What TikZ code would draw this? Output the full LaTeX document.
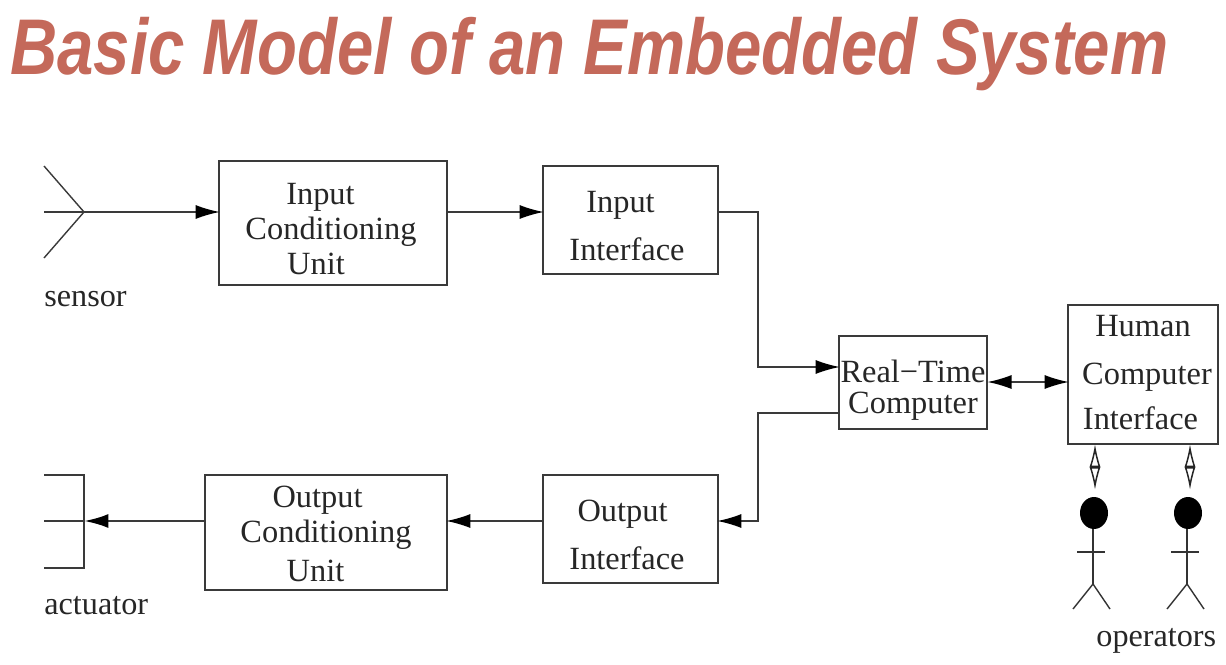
\documentclass[tikz,border=0pt]{standalone}
\usepackage{fontspec}
\setmainfont{Liberation Serif}
\newfontfamily\titlefont{Liberation Sans}
\usetikzlibrary{arrows.meta,shapes.geometric}
\definecolor{titlered}{HTML}{C4695A}
\definecolor{inkline}{HTML}{3A3A3A}
\newcommand{\shiftln}[2]{\makebox[0pt]{\hspace*{#1pt}#2}}
\newcommand{\firstln}[3]{\makebox[0pt]{\hspace*{#1pt}\smash{#3}}\rule{0pt}{#2pt}}
\tikzset{
  x=0.5pt,y=-0.5pt,
  boxnode/.style={draw=inkline,line width=0.9pt,inner sep=0pt,align=center,font=\fontsize{16.2}{17.4}\selectfont,text=black!85},
  plain/.style={inner sep=0pt,font=\fontsize{16.1}{18}\selectfont,text=black!85},
  wire/.style={draw=inkline,line width=0.7pt},
  tip/.style={-{Latex[length=12pt,width=7pt,black]},shorten >=-0.8pt},
  twotip/.style={{Latex[length=12pt,width=7pt,black]}-{Latex[length=12pt,width=7pt,black]},shorten >=-0.8pt,shorten <=-0.2pt},
  hollow/.style={{Latex[open,length=11.5pt,width=5.5pt]}-{Latex[open,length=11.5pt,width=5.5pt]},draw=black!85,line width=0.75pt},
  stick/.style={draw=black!80,line width=0.7pt},
}
\begin{document}
\begin{tikzpicture}
\useasboundingbox (0,0) rectangle (1226,664);
\node[anchor=base west,inner sep=0pt,text=titlered,font=\titlefont\bfseries\itshape\fontsize{39.5}{40}\selectfont] (title) at (10,75) {\resizebox{579pt}{\height}{Basic Model of an Embedded System}};

\node[boxnode,minimum width=114pt,minimum height=62pt] (icu) at (333,223)
  {\firstln{-12.5}{16.8}{Input}\\\shiftln{-2}{Conditioning}\\\shiftln{-17}{Unit}};
\node[boxnode,minimum width=87.5pt,minimum height=54pt] (ii) at (630.5,220)
  {\firstln{-10}{17}{Input}\\[6.5pt]\shiftln{-3.5}{Interface}};
\node[boxnode,minimum width=74pt,minimum height=46.5pt] (rt) at (913,382.5)
  {\firstln{0}{18.8}{Real−Time}\\[-2pt]Computer};
\node[boxnode,minimum width=75pt,minimum height=69.5pt] (hci) at (1143,374.5)
  {\firstln{0}{8.8}{Human}\\[6.5pt]\shiftln{4}{Computer}\\[5.5pt]\shiftln{-2.5}{Interface}};
\node[boxnode,minimum width=87.5pt,minimum height=54pt] (oi) at (630.5,529)
  {\firstln{-8}{16.3}{Output}\\[6.5pt]\shiftln{-3.5}{Interface}};
\node[boxnode,minimum width=121pt,minimum height=57.5pt] (ocu) at (326,532.5)
  {\firstln{-8.5}{12.3}{Output}\\\shiftln{0}{Conditioning}\\[2.5pt]\shiftln{-10.5}{Unit}};

\node[plain,anchor=base west] (sensorlabel) at (44,306) {sensor};
\node[plain,anchor=base west] (actuatorlabel) at (44,614) {actuator};
\node[plain,anchor=base west] (operatorslabel) at (1096,646) {operators};

% named levels
\coordinate (sa) at (44,166);
\coordinate (sb) at (84,212);
\coordinate (sc) at (44,258);
\coordinate (sd) at (44,212);
\coordinate (aa) at (44,475);
\coordinate (ab) at (84,475);
\coordinate (ac) at (84,568);
\coordinate (ad) at (44,568);
\coordinate (ae) at (44,521);
\coordinate (af) at (86,521);
\coordinate (up) at (758,212);
\coordinate (inrt) at (758,367);
\coordinate (outrt) at (758,413);
\coordinate (low) at (758,521);
\coordinate (mid) at (0,382);

\draw[wire] (sa) -- (sb) -- (sc);
\draw[wire] (sd) -- (sb);
\draw[wire,tip] (sb) -- (sb -| icu.west);
\draw[wire,tip] (up -| icu.east) -- (up -| ii.west);
\draw[wire,tip] (up -| ii.east) -- (up) -- (inrt) -- (inrt -| rt.west);
\draw[wire,tip] (outrt -| rt.west) -- (outrt) -- (low) -- (low -| oi.east);
\draw[wire,tip] (low -| oi.west) -- (low -| ocu.east);
\draw[wire,line width=1pt,tip] (low -| ocu.west) -- (af);
\draw[wire,twotip] (mid -| rt.east) -- (mid -| hci.west);

\draw[wire] (aa) -- (ab) -- (ac) -- (ad);
\draw[wire] (ae) -- (ab |- ae);

% operators
\foreach \n/\hx/\bx in {one/1095/1093,two/1190/1187}{
  \coordinate (hand\n) at (\hx,490);
  \draw[hollow] (\hx,444) -- (hand\n);
}
\foreach \n/\hx/\bx in {one/1094/1093,two/1188/1187}{
  \node[draw=none,fill=black,ellipse,minimum width=14pt,minimum height=16pt,inner sep=0pt] (head\n) at (\hx,513) {};
  \coordinate (hip\n) at (\bx,584);
  \draw[stick] (head\n.south -| hip\n) -- (hip\n);
  \draw[stick] (\bx-16,552) -- (\bx+12,552);
  \draw[stick] (\bx-20,609) -- (hip\n) -- (\bx+17,609);
}
\end{tikzpicture}
\end{document}
